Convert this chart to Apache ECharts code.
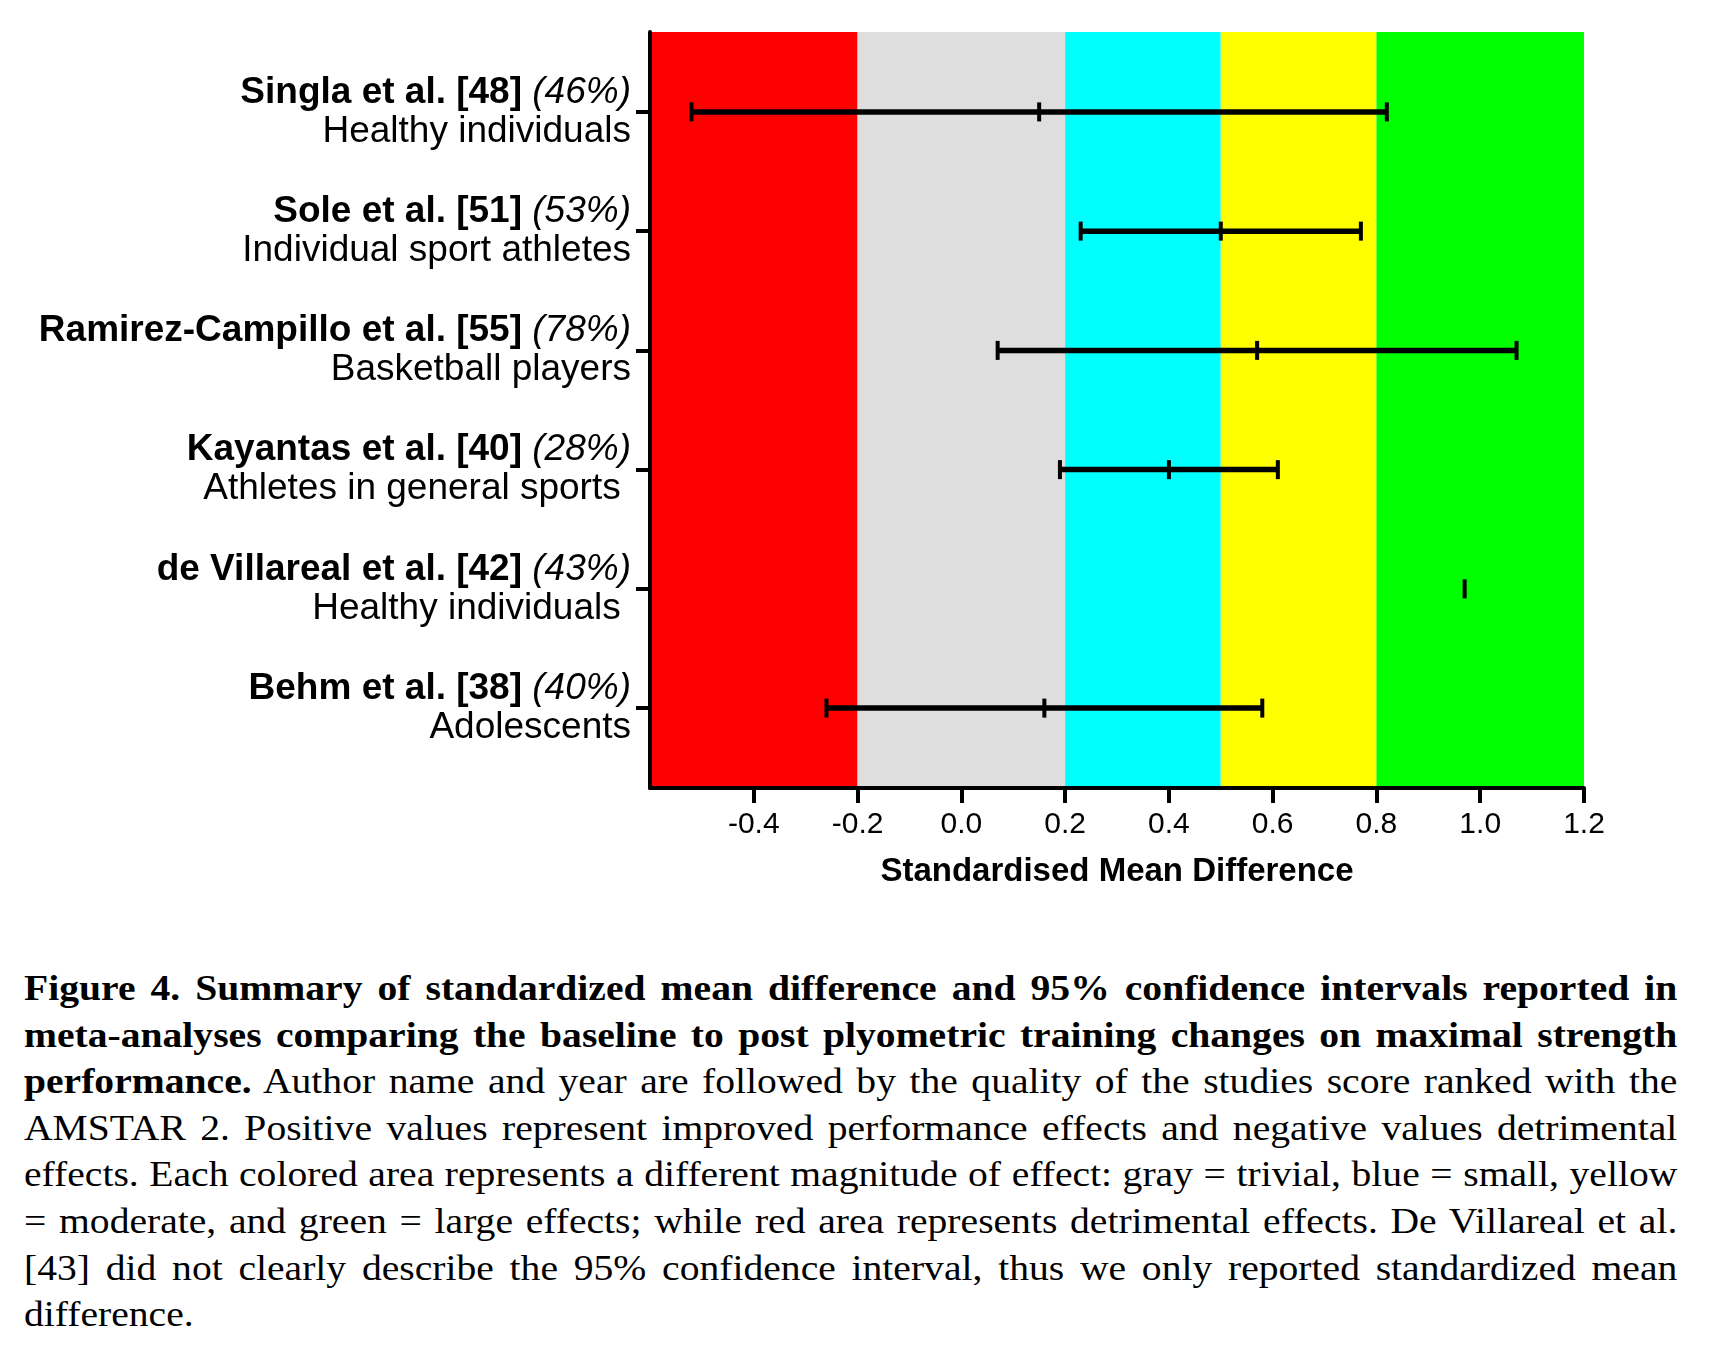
<!DOCTYPE html>
<html>
<head>
<meta charset="utf-8">
<script src="https://cdn.jsdelivr.net/npm/echarts@6/dist/echarts.min.js"></script>
<style>
  html, body { margin: 0; padding: 0; background: #fff; }
  #chart { position: absolute; left: 0; top: 0; width: 1716px; height: 940px; }
  #caption {
    position: absolute; left: 24px; top: 965px; width: 1503px;
    transform: scaleX(1.1); transform-origin: 0 0;
    font-family: 'Liberation Serif', 'Times New Roman', serif;
    font-size: 36px; line-height: 46.6px; color: #000;
  }
  #caption .ln { white-space: nowrap; text-align: justify; text-align-last: justify; }
  #caption .ln.last { text-align-last: left; }
</style>
</head>
<body>
<div id="chart"></div>
<div id="caption">
  <div class="ln"><b>Figure 4. Summary of standardized mean difference and 95% confidence intervals reported in</b></div>
  <div class="ln"><b>meta-analyses comparing the baseline to post plyometric training changes on maximal strength</b></div>
  <div class="ln"><b>performance.</b> Author name and year are followed by the quality of the studies score ranked with the</div>
  <div class="ln">AMSTAR 2. Positive values represent improved performance effects and negative values detrimental</div>
  <div class="ln">effects. Each colored area represents a different magnitude of effect: gray = trivial, blue = small, yellow</div>
  <div class="ln">= moderate, and green = large effects; while red area represents detrimental effects. De Villareal et al.</div>
  <div class="ln">[43] did not clearly describe the 95% confidence interval, thus we only reported standardized mean</div>
  <div class="ln last">difference.</div>
</div>
<script>
// ── Data ───────────────────────────────────────────────
const studies     = ['Singla et al. [48]', 'Sole et al. [51]', 'Ramirez-Campillo et al. [55]',
                     'Kayantas et al. [40]', 'de Villareal et al. [42]', 'Behm et al. [38]'];
const quality     = ['(46%)', '(53%)', '(78%)', '(28%)', '(43%)', '(40%)'];
const populations = ['Healthy individuals', 'Individual sport athletes', 'Basketball players',
                     'Athletes in general sports ', 'Healthy individuals ', 'Adolescents'];
const smd         = [0.15, 0.50, 0.57, 0.40, 0.97, 0.16];
const ciLow       = [-0.52, 0.23, 0.07, 0.19, null, -0.26];
const ciHigh      = [0.82, 0.77, 1.07, 0.61, null, 0.58];

// effect magnitude zones (detrimental, trivial, small, moderate, large)
const zoneEdges   = [-0.6, -0.2, 0.2, 0.5, 0.8, 1.2];
const zoneColors  = ['#FF0000', '#DEDEDE', '#00FFFF', '#FFFF00', '#00FF00'];

const FONT = "'Liberation Sans', Arial, Helvetica, sans-serif";
const N = studies.length;
const rowVals = studies.map((_, i) => N - 1 - i);   // top row = highest y

// ── Chart ──────────────────────────────────────────────
const chart = echarts.init(document.getElementById('chart'));

const zones = zoneColors.map((c, i) => [
  { xAxis: zoneEdges[i], itemStyle: { color: c } },
  { xAxis: zoneEdges[i + 1] },
]);

const barData = studies.map((_, i) => [rowVals[i], ciLow[i], smd[i], ciHigh[i]]);

function renderBar(params, api) {
  const row  = api.value(0);
  const lo   = api.value(1);
  const mid  = api.value(2);
  const hi   = api.value(3);
  const capH = 19, capW = 4;
  const kids = [];
  const tick = x => {
    const p = api.coord([x, row]);
    kids.push({ type: 'rect', shape: { x: p[0] - capW / 2, y: p[1] - capH / 2, width: capW, height: capH },
                style: { fill: '#000' } });
  };
  if (lo != null && !isNaN(lo) && hi != null && !isNaN(hi)) {
    const a = api.coord([lo, row]);
    const b = api.coord([hi, row]);
    kids.push({ type: 'line', shape: { x1: a[0], y1: a[1], x2: b[0], y2: b[1] },
                style: { stroke: '#000', lineWidth: 5.5 } });
    tick(lo);
    tick(hi);
  }
  tick(mid);
  return { type: 'group', children: kids };
}

chart.setOption({
  backgroundColor: '#fff',
  animation: false,
  grid: { left: 650, top: 32, width: 934, height: 756 },
  xAxis: {
    type: 'value',
    z: 10,
    min: -0.6, max: 1.2, interval: 0.2,
    splitLine: { show: false },
    axisLine: { onZero: false, lineStyle: { color: '#000', width: 4 } },
    axisTick: { length: 15, lineStyle: { color: '#000', width: 4 } },
    axisLabel: {
      showMinLabel: false,
      margin: 22,
      fontFamily: FONT, fontSize: 30, color: '#000',
      formatter: v => v.toFixed(1),
    },
    name: 'Standardised Mean Difference',
    nameLocation: 'middle',
    nameGap: 67,
    nameTextStyle: { fontFamily: FONT, fontSize: 33, fontWeight: 'bold', color: '#000' },
  },
  yAxis: {
    type: 'value',
    z: 10,
    min: -0.67, max: 5.67,
    splitLine: { show: false },
    axisLine: { onZero: false, lineStyle: { color: '#000', width: 4 } },
    axisTick: { customValues: rowVals, length: 14, lineStyle: { color: '#000', width: 4 } },
    axisLabel: {
      customValues: rowVals,
      margin: 19,
      align: 'right',
      verticalAlign: 'middle',
      formatter: v => {
        const i = N - 1 - Math.round(v);
        return '{b|' + studies[i] + '}{i| ' + quality[i] + '}\n{n|' + populations[i] + '}';
      },
      rich: {
        b: { fontFamily: FONT, fontSize: 37, fontWeight: 'bold', color: '#000', lineHeight: 39 },
        i: { fontFamily: FONT, fontSize: 37, fontStyle: 'italic', color: '#000', lineHeight: 39 },
        n: { fontFamily: FONT, fontSize: 37, color: '#000', lineHeight: 39 },
      },
    },
  },
  series: [
    {
      type: 'custom',
      renderItem: renderBar,
      data: barData,
      encode: { x: [1, 2, 3], y: 0 },
      z: 5,
      markArea: { silent: true, data: zones, z: 1 },
    },
  ],
});
</script>
</body>
</html>
